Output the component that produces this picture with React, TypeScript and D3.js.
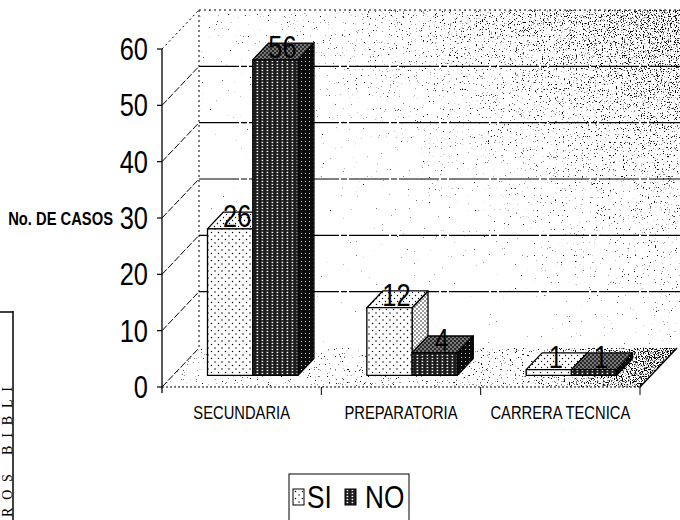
import React from "react";
import * as d3 from "d3";

// ---- data ----
const categories = ["SECUNDARIA", "PREPARATORIA", "CARRERA TECNICA"];
const seriesNames = ["SI", "NO"];
const siValues = [26, 12, 1];
const noValues = [56, 4, 1];
const yTicks = [0, 10, 20, 30, 40, 50, 60];
const yAxisTitle = "No. DE CASOS";
const stampText = "ROS BIBLI";

// ---- layout ----
const W = 680;
const H = 520;
const FRONT_LEFT = 162;
const FRONT_RIGHT = 640;
const FLOOR_Y = 387;
const TOP_Y = 49;
const DEPTH = { x: 37, y: -39 };
const BAR_Z0 = 0.3;
const BAR_Z1 = 0.73;
const FONT = "'Liberation Sans', Arial, sans-serif";

const x0 = d3.scaleBand<string>().domain(categories).range([FRONT_LEFT, FRONT_RIGHT]);
const x1 = d3
  .scaleBand<string>()
  .domain(seriesNames)
  .range([0, x0.bandwidth()])
  .paddingOuter(0.76);
const y = d3.scaleLinear().domain([0, 60]).range([FLOOR_Y, TOP_Y]);

const P = (x: number, v: number, z: number): [number, number] => [
  x + DEPTH.x * z,
  y(v) + DEPTH.y * z,
];
const poly = (pts: [number, number][]) => pts.map((p) => p.join(",")).join(" ");

type NTProps = {
  x: number;
  y: number;
  size: number;
  anchor?: "start" | "middle" | "end";
  weight?: string | number;
  children: React.ReactNode;
};
// condensed text, like a narrow sans face
const NT = ({ x, y, size, anchor = "start", weight = 400, children }: NTProps) => (
  <text
    transform={`translate(${x},${y}) scale(0.82,1)`}
    fontSize={size}
    textAnchor={anchor}
    fontWeight={weight}
    fontFamily={FONT}
    fill="#000"
  >
    {children}
  </text>
);

const seriesStyle: Record<string, { front: string; side: string; top: string }> = {
  SI: { front: "url(#siFront)", side: "url(#siSide)", top: "url(#siTop)" },
  NO: { front: "url(#noFront)", side: "url(#noSide)", top: "url(#noTop)" },
};

export default function App() {
  const backLeftX = FRONT_LEFT + DEPTH.x;
  const backRightX = FRONT_RIGHT + DEPTH.x;

  const bars = categories.flatMap((c, i) =>
    seriesNames.map((s) => {
      const v = s === "SI" ? siValues[i] : noValues[i];
      const xl = (x0(c) ?? 0) + (x1(s) ?? 0);
      const xr = xl + x1.bandwidth();
      return { c, s, v, xl, xr };
    })
  );

  return (
    <svg
      width={W}
      height={H}
      viewBox={`0 0 ${W} ${H}`}
      style={{ position: "absolute", left: 0, top: 0, background: "#fff" }}
    >
      <defs>
        <pattern id="siFront" width="7" height="7" patternUnits="userSpaceOnUse">
          <rect width="7" height="7" fill="#fff" />
          <circle cx="1.5" cy="1.5" r="0.75" fill="#000" />
          <circle cx="5" cy="5" r="0.75" fill="#000" />
        </pattern>
        <pattern id="siTop" width="6" height="6" patternUnits="userSpaceOnUse">
          <rect width="6" height="6" fill="#fff" />
          <circle cx="1.5" cy="1.5" r="0.7" fill="#000" />
          <circle cx="4.5" cy="4.5" r="0.7" fill="#000" />
        </pattern>
        <pattern id="siSide" width="4" height="4" patternUnits="userSpaceOnUse">
          <rect width="4" height="4" fill="#fff" />
          <circle cx="1" cy="1" r="0.75" fill="#000" />
          <circle cx="3" cy="3" r="0.75" fill="#000" />
        </pattern>
        <pattern id="noFront" width="5" height="3" patternUnits="userSpaceOnUse">
          <rect width="5" height="3" fill="#1c1c1c" />
          <rect x="1.6" y="0.8" width="1.6" height="1.3" fill="#fff" />
        </pattern>
        <pattern id="noSide" width="4" height="4" patternUnits="userSpaceOnUse">
          <rect width="4" height="4" fill="#0c0c0c" />
          <rect x="1" y="1" width="0.9" height="0.9" fill="#fff" />
        </pattern>
        <pattern id="noTop" width="4" height="4" patternUnits="userSpaceOnUse">
          <rect width="4" height="4" fill="#2a2a2a" />
          <circle cx="1" cy="1" r="0.7" fill="#fff" />
          <circle cx="3" cy="3" r="0.7" fill="#fff" />
        </pattern>

        <linearGradient id="wallG" x1="0" y1="1" x2="1" y2="0">
          <stop offset="0" stopColor="#000" stopOpacity="0.14" />
          <stop offset="0.45" stopColor="#000" stopOpacity="0.24" />
          <stop offset="0.75" stopColor="#000" stopOpacity="0.36" />
          <stop offset="1" stopColor="#000" stopOpacity="0.48" />
        </linearGradient>
        <linearGradient id="floorG" x1="0" y1="0" x2="1" y2="0">
          <stop offset="0" stopColor="#000" stopOpacity="0.3" />
          <stop offset="0.7" stopColor="#000" stopOpacity="0.35" />
          <stop offset="1" stopColor="#000" stopOpacity="0.55" />
        </linearGradient>

        <filter
          id="stipple"
          x="0"
          y="0"
          width="1"
          height="1"
          colorInterpolationFilters="sRGB"
        >
          <feTurbulence type="fractalNoise" baseFrequency="0.85" numOctaves="2" seed="4" result="noise" />
          <feColorMatrix
            in="noise"
            type="matrix"
            values="0 0 0 0 0  0 0 0 0 0  0 0 0 0 0  -1 0 0 0 1"
            result="inv"
          />
          <feComposite in="SourceAlpha" in2="inv" operator="arithmetic" k1="0" k2="9" k3="9" k4="-9" />
        </filter>
      </defs>

      {/* back wall */}
      <polygon
        points={poly([
          [backLeftX, TOP_Y + DEPTH.y],
          [W, TOP_Y + DEPTH.y],
          [W, FLOOR_Y + DEPTH.y],
          [backLeftX, FLOOR_Y + DEPTH.y],
        ])}
        fill="url(#wallG)"
        filter="url(#stipple)"
      />

      {/* floor */}
      <polygon
        points={poly([
          [FRONT_LEFT, FLOOR_Y],
          [FRONT_RIGHT, FLOOR_Y],
          [backRightX, FLOOR_Y + DEPTH.y],
          [backLeftX, FLOOR_Y + DEPTH.y],
        ])}
        fill="url(#floorG)"
        filter="url(#stipple)"
      />

      {/* back wall edges */}
      <line
        x1={backLeftX}
        x2={W}
        y1={TOP_Y + DEPTH.y}
        y2={TOP_Y + DEPTH.y}
        stroke="#000"
        strokeWidth={1}
        strokeDasharray="2 3"
      />
      <line
        x1={backLeftX}
        x2={backLeftX}
        y1={TOP_Y + DEPTH.y}
        y2={FLOOR_Y + DEPTH.y}
        stroke="#000"
        strokeWidth={1}
        strokeDasharray="2 3"
      />

      {/* gridlines: diagonal on side wall, horizontal on back wall */}
      {yTicks.map((t) => {
        const [bx, by] = P(FRONT_LEFT, t, 1);
        const top = t === 60;
        return (
          <g key={`g${t}`}>
            <line
              x1={FRONT_LEFT}
              y1={y(t)}
              x2={bx}
              y2={by}
              stroke="#000"
              strokeWidth={1}
              strokeDasharray={top ? "2 3" : "7 2"}
            />
            {t > 0 && !top && (
              <line
                x1={bx}
                y1={by}
                x2={W}
                y2={by}
                stroke="#000"
                strokeWidth={1.2}
                strokeDasharray="40 2 6 2"
              />
            )}
          </g>
        );
      })}

      {/* floor front and right edges */}
      <line
        x1={FRONT_LEFT}
        x2={FRONT_RIGHT}
        y1={FLOOR_Y}
        y2={FLOOR_Y}
        stroke="#000"
        strokeWidth={1}
        strokeDasharray="2 2"
      />
      <line
        x1={FRONT_RIGHT}
        y1={FLOOR_Y}
        x2={backRightX}
        y2={FLOOR_Y + DEPTH.y}
        stroke="#000"
        strokeWidth={1.4}
      />
      {categories.map((c, i) => {
        const xb = (x0(c) ?? 0) + x0.bandwidth();
        return (
          <line key={`xt${i}`} x1={xb} x2={xb} y1={FLOOR_Y} y2={FLOOR_Y + 8} stroke="#000" strokeWidth={1} />
        );
      })}

      {/* value axis */}
      <line x1={FRONT_LEFT} x2={FRONT_LEFT} y1={TOP_Y} y2={FLOOR_Y + 6} stroke="#000" strokeWidth={1.3} />
      {yTicks.map((t) => (
        <g key={`yt${t}`}>
          <line x1={FRONT_LEFT - 5} x2={FRONT_LEFT} y1={y(t)} y2={y(t)} stroke="#000" strokeWidth={1.2} />
          <NT x={148} y={y(t) + 11} size={31} anchor="end">
            {t}
          </NT>
        </g>
      ))}
      <NT x={113} y={225} size={18} anchor="end" weight={700}>
        {yAxisTitle}
      </NT>

      {/* 3D bars */}
      {bars.map((b, i) => {
        const st = seriesStyle[b.s];
        const front = poly([P(b.xl, 0, BAR_Z0), P(b.xr, 0, BAR_Z0), P(b.xr, b.v, BAR_Z0), P(b.xl, b.v, BAR_Z0)]);
        const side = poly([P(b.xr, 0, BAR_Z0), P(b.xr, 0, BAR_Z1), P(b.xr, b.v, BAR_Z1), P(b.xr, b.v, BAR_Z0)]);
        const top = poly([P(b.xl, b.v, BAR_Z0), P(b.xr, b.v, BAR_Z0), P(b.xr, b.v, BAR_Z1), P(b.xl, b.v, BAR_Z1)]);
        return (
          <g key={`b${i}`} stroke="#000" strokeWidth={1.3} strokeLinejoin="round">
            <polygon points={side} fill={st.side} />
            <polygon points={top} fill={st.top} />
            <polygon points={front} fill={st.front} />
          </g>
        );
      })}

      {/* value labels */}
      {bars.map((b, i) => {
        const [fx, fy] = P((b.xl + b.xr) / 2, b.v, BAR_Z0);
        return (
          <NT key={`v${i}`} x={fx + 7} y={fy - 2} size={31} anchor="middle">
            {b.v}
          </NT>
        );
      })}

      {/* category labels */}
      {categories.map((c) => (
        <NT key={c} x={(x0(c) ?? 0) + x0.bandwidth() / 2} y={419} size={18} anchor="middle">
          {c}
        </NT>
      ))}

      {/* legend */}
      <g>
        <rect x={289} y={474} width={120} height={60} fill="#fff" stroke="#000" strokeWidth={1} />
        <rect x={293} y={489} width={11} height={16} fill="url(#siFront)" stroke="#000" strokeWidth={1} />
        <NT x={307} y={508} size={32}>
          {seriesNames[0]}
        </NT>
        <rect x={345} y={489} width={11} height={16} fill="url(#noFront)" stroke="#000" strokeWidth={1} />
        <NT x={365} y={508} size={32}>
          {seriesNames[1]}
        </NT>
      </g>

      {/* margin stamp */}
      <line x1={13} x2={13} y1={311} y2={H} stroke="#000" strokeWidth={1.5} />
      <line x1={0} x2={13} y1={312} y2={312} stroke="#000" strokeWidth={1.5} />
      <text
        transform={`translate(11.5,517) rotate(-90)`}
        fontSize={14}
        fontFamily="'Liberation Serif', serif"
        textLength={130}
        lengthAdjust="spacing"
        fill="#000"
      >
        {stampText}
      </text>
    </svg>
  );
}
